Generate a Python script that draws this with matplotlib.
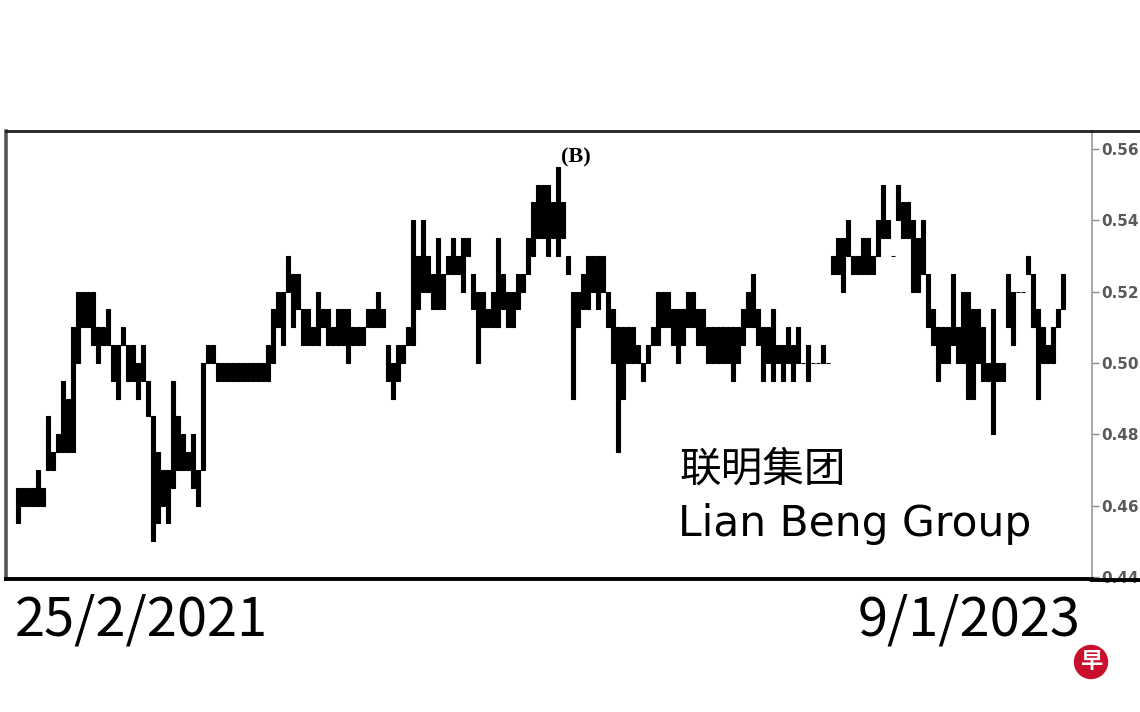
import matplotlib
matplotlib.use("Agg")
import matplotlib.pyplot as plt
from matplotlib.lines import Line2D
from matplotlib.patches import Circle
import numpy as np

plt.rcParams['font.family'] = ['Noto Sans CJK SC', 'DejaVu Sans']

# daily high / low (one entry per bar)
highs = [
    .465, .465, .465, .465, .47, .465, .485, .475, .48, .495,
    .49, .51, .52, .52, .52, .52, .51, .51, .515, .505,
    .505, .51, .505, .505, .50, .505, .495, .485, .475, .47,
    .47, .495, .485, .48, .475, .48, .47, .50, .505, .505,
    .50, .50, .50, .50, .50, .50, .50, .50, .50, .50,
    .505, .515, .52, .52, .53, .525, .525, .515, .515, .51,
    .52, .515, .515, .51, .515, .515, .515, .51, .51, .51,
    .515, .515, .52, .515, .505, .50, .505, .505, .51, .54,
    .53, .54, .53, .525, .535, .525, .53, .535, .53, .535,
    .535, .525, .52, .52, .515, .52, .535, .525, .52, .52,
    .525, .525, .535, .545, .55, .55, .55, .545, .555, .545,
    .53, .52, .52, .525, .53, .53, .53, .53, .52, .515,
    .51, .51, .51, .51, .505, .50, .505, .51, .52, .52,
    .52, .515, .515, .515, .52, .52, .515, .515, .51, .51,
    .51, .51, .51, .51, .51, .515, .52, .525, .515, .51,
    .51, .515, .505, .505, .51, .505, .51, .50, .505, .50,
    .50, .505, .50, .53, .535, .535, .54, .53, .53, .535,
    .535, .53, .54, .55, .54, .53, .55, .545, .545, .54,
    .535, .54, .525, .515, .51, .51, .51, .525, .51, .52,
    .52, .515, .515, .51, .50, .515, .50, .50, .525, .52,
    .52, .52, .53, .525, .515, .51, .505, .51, .515, .525,
]
lows = [
    .455, .46, .46, .46, .46, .46, .47, .47, .475, .475,
    .475, .475, .50, .51, .51, .505, .50, .505, .505, .495,
    .49, .505, .495, .495, .49, .495, .485, .45, .455, .46,
    .455, .465, .47, .47, .47, .465, .46, .47, .50, .50,
    .495, .495, .495, .495, .495, .495, .495, .495, .495, .495,
    .495, .50, .51, .505, .52, .51, .515, .505, .505, .505,
    .505, .51, .505, .505, .505, .505, .50, .505, .505, .505,
    .51, .51, .51, .51, .495, .49, .495, .50, .505, .505,
    .515, .52, .52, .515, .515, .515, .525, .525, .525, .52,
    .53, .515, .50, .51, .51, .51, .51, .515, .51, .51,
    .515, .52, .525, .53, .535, .535, .53, .535, .53, .535,
    .525, .49, .51, .515, .515, .52, .515, .52, .51, .50,
    .475, .49, .50, .50, .50, .495, .50, .505, .505, .51,
    .51, .505, .50, .505, .51, .51, .505, .505, .50, .50,
    .50, .50, .50, .495, .50, .505, .51, .51, .505, .495,
    .50, .495, .50, .495, .50, .495, .50, .50, .495, .50,
    .50, .50, .50, .525, .525, .52, .53, .525, .525, .525,
    .525, .525, .53, .535, .535, .53, .54, .535, .535, .52,
    .52, .525, .51, .505, .495, .50, .50, .505, .50, .50,
    .49, .49, .50, .495, .495, .48, .495, .495, .51, .505,
    .52, .52, .525, .51, .49, .50, .50, .50, .51, .515,
]
yticks = [0.44, 0.46, 0.48, 0.50, 0.52, 0.54, 0.56]
start_label = "25/2/2021"
end_label = "9/1/2023"
name_cn = "联明集团"
name_en = "Lian Beng Group"

highs = np.array(highs)
lows = np.array(lows)
x = np.arange(len(highs))

fig = plt.figure(figsize=(11.4, 7.12), dpi=100)
ax = fig.add_axes([6 / 1140, 133 / 712, 1086 / 1140, 448 / 712])

ax.bar(x, highs - lows, bottom=lows, width=0.7, color="black",
       edgecolor="black", linewidth=0.8)

ax.set_xlim(-2.4, 214.8)
ax.set_ylim(0.4394, 0.565)
ax.set_xticks([])
ax.yaxis.tick_right()
ax.set_yticks(yticks)
ax.set_yticklabels([f"{t:.2f}" for t in yticks])
ax.tick_params(axis="y", direction="out", length=5, width=1, colors="#8a8a8a",
               labelcolor="#5a5a5a", labelsize=11, pad=2)
for lab in ax.get_yticklabels():
    lab.set_family("DejaVu Sans")
    lab.set_fontweight("bold")

ax.spines["right"].set_color("#9a9a9a")
ax.spines["right"].set_linewidth(1.2)
ax.spines["left"].set_color("#555555")
ax.spines["left"].set_linewidth(2.6)
ax.spines["top"].set_color("#222222")
ax.spines["top"].set_linewidth(2.0)
ax.spines["bottom"].set_color("black")
ax.spines["bottom"].set_linewidth(2.8)

# outer frame continues past the price axis
fig.add_artist(Line2D([1092 / 1140, 1], [1 - 131 / 712] * 2, color="#222222", lw=2.0,
                      transform=fig.transFigure))
fig.add_artist(Line2D([1092 / 1140, 1], [1 - 580 / 712] * 2, color="black", lw=2.8,
                      transform=fig.transFigure))

ax.text(111.6, 0.5575, "(B)", ha="center", va="center", fontsize=16,
        fontweight="bold", family="Liberation Serif")

fig.text(679 / 1140, 1 - 470 / 712, name_cn, fontsize=30, va="center", ha="left")
fig.text(678 / 1140, 1 - 536 / 712, name_en, fontsize=30.5, va="baseline", ha="left",
         family="DejaVu Sans")

fig.text(15 / 1140, 1 - 635 / 712, start_label, fontsize=39, va="baseline", ha="left")
fig.text(1080 / 1140, 1 - 635 / 712, end_label, fontsize=39, va="baseline", ha="right")

# red round logo
fig.add_artist(Circle((10.91, 0.50), 0.165, color="#c8102e",
                      transform=fig.dpi_scale_trans))
fig.text(1091 / 1140, 1 - 662 / 712, "早", color="white", fontsize=16,
         fontweight="bold", ha="center", va="center")

fig.savefig("out.png", dpi=100, facecolor="white")
